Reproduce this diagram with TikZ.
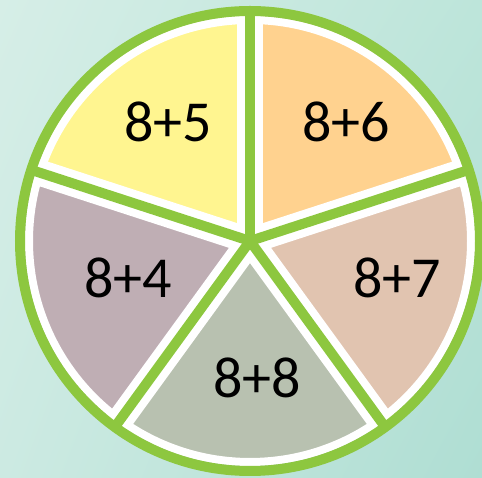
\documentclass[tikz,border=0pt]{standalone}
\usepackage{fontspec}
\setmainfont{Carlito}
\usepackage{xcolor}
\usepackage{tikz}
\usetikzlibrary{shadings}
\definecolor{WheelGreen}{HTML}{8DC73F}
\definecolor{SliceFive}{HTML}{FFF590}
\definecolor{SliceSix}{HTML}{FFD28F}
\definecolor{SliceSeven}{HTML}{E1C4B0}
\definecolor{SliceEight}{HTML}{B8C1B0}
\definecolor{SliceFour}{HTML}{BFAEB4}
\definecolor{BgUL}{HTML}{D6EEE7}
\definecolor{BgUR}{HTML}{BDE5DA}
\definecolor{BgLL}{HTML}{CCEAE2}
\definecolor{BgLR}{HTML}{AFDED3}

\begin{document}
\begin{tikzpicture}[x=1pt,y=1pt,font=\fontsize{58}{62}\selectfont]
  \useasboundingbox (0,0) rectangle (482,478);
  \shade[upper left=BgUL,upper right=BgUR,lower left=BgLL,lower right=BgLR]
    (0,0) rectangle (482,478);
  \coordinate (c) at (250,237);
  % slices
  \foreach \a/\col in {18/SliceSix,90/SliceFive,162/SliceFour,234/SliceEight,306/SliceSeven}
    \fill[\col] (c) -- ++(\a:225) arc[start angle=\a,delta angle=72,radius=225] -- cycle;
  % white edges
  \draw[white,line width=8] (c) circle (221);
  \foreach \a in {18,90,...,306}
    \draw[white,line width=26] (c) -- ++(\a:225);
  % green rim and spokes
  \foreach \a in {18,90,...,306}
    \draw[WheelGreen,line width=10] (c) -- ++(\a:230);
  \draw[WheelGreen,line width=10] (c) circle (230);
  \node (five) at (168,356) {8+5};
  \node (six) at (346,356) {8+6};
  \node (four) at (128,200) {8+4};
  \node (seven) at (397,200) {8+7};
  \node (eight) at (257,100) {8+8};
\end{tikzpicture}
\end{document}
